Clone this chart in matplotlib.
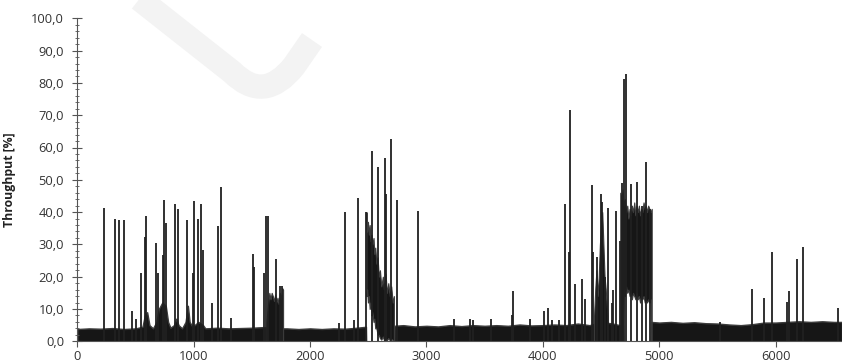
import matplotlib
matplotlib.use("Agg")
import matplotlib.pyplot as plt
from matplotlib.ticker import MultipleLocator, FuncFormatter
from matplotlib.path import Path
from matplotlib.patches import PathPatch

# ---------------- data ----------------
spike_x = [229, 323, 358, 401, 472, 507, 550, 579, 593, 677, 695, 733, 745, 765,
           837, 862, 942, 994, 1006, 1037, 1067, 1077, 1154, 1205, 1234, 1320,
           1509, 1520, 1604, 1618, 1641, 1706, 1743, 1757, 2245, 2300, 2374, 2409,
           2484, 2533, 2581, 2641, 2653, 2696, 2748, 2925, 3233, 3370, 3396, 3557,
           3735, 3742, 3891, 4006, 4043, 4078, 4141, 4190, 4222, 4233, 4278, 4336,
           4362, 4423, 4434, 4468, 4496, 4510, 4533, 4556, 4590, 4602, 4630, 4659,
           4680, 4693, 4716, 4757, 4806, 4850, 4886, 4920, 5525, 5793, 5900, 5966,
           6095, 6117, 6180, 6238, 6533]
spike_y = [41.2, 37.9, 37.5, 37.5, 9.4, 6.8, 21.2, 32.2, 38.8, 30.3, 21.0, 26.7, 43.7, 36.7,
           42.4, 41.0, 37.5, 21.0, 43.4, 38.0, 42.4, 28.3, 11.8, 35.7, 47.9, 7.3,
           27.0, 23.0, 21.2, 38.9, 38.9, 25.5, 17.1, 17.1, 5.7, 40.0, 6.6, 44.3,
           39.9, 58.9, 54.1, 56.9, 45.6, 62.5, 43.7, 40.3, 6.8, 6.8, 6.5, 6.8,
           8.0, 15.7, 6.8, 9.4, 10.2, 6.5, 6.5, 42.6, 27.7, 71.6, 17.8, 19.2,
           13.0, 48.4, 27.7, 26.0, 45.6, 43.2, 20.0, 41.2, 12.0, 15.9, 40.3, 31.0,
           49.0, 81.1, 82.8, 48.7, 49.4, 42.0, 55.5, 41.0, 6.0, 16.1, 13.5, 27.7,
           12.3, 15.6, 25.4, 29.3, 10.2]

base_x = [0, 100, 200, 300, 400, 500, 560, 580, 600, 620, 650, 680, 700, 730, 760, 780,
          800, 830, 850, 870, 900, 930, 950, 965, 990, 1040, 1080, 1100, 1200, 1300,
          1400, 1500, 1600, 1700, 1800, 1900, 2000, 2100, 2200, 2300, 2400, 2480,
          2482, 2722, 2724, 2800, 2900, 3000, 3100, 3200, 3300, 3400, 3500, 3600,
          3700, 3800, 3900, 4000, 4100, 4200, 4300, 4400, 4500, 4600, 4660, 4688,
          4690, 4928, 4930, 5000, 5100, 5200, 5300, 5400, 5500, 5600, 5700, 5800,
          5900, 6000, 6100, 6200, 6300, 6400, 6500, 6570]
base_top = [3.8, 4.0, 3.9, 4.1, 3.8, 4.0, 4.5, 8.0, 9.0, 5.0, 4.0, 6.0, 10.0, 12.0, 11.0, 6.0,
            4.2, 5.0, 7.0, 5.0, 4.0, 6.0, 11.0, 6.0, 4.5, 6.0, 5.0, 4.0, 4.2, 4.0,
            4.1, 4.2, 4.4, 4.0, 4.0, 3.8, 4.0, 3.8, 4.0, 3.9, 4.2, 4.5,
            0.0, 0.0, 4.8, 5.0, 4.6, 4.8, 4.6, 5.0, 4.7, 5.0, 4.8, 5.0,
            4.8, 5.2, 4.9, 5.0, 5.2, 5.0, 5.5, 5.0, 6.0, 5.5, 5.0, 5.0,
            0.0, 0.0, 6.0, 5.8, 6.0, 5.7, 5.9, 5.6, 5.5, 5.2, 5.0, 5.3,
            5.8, 5.8, 6.0, 6.2, 6.0, 6.2, 6.0, 6.0]

block1_x = [1625, 1640, 1650, 1660, 1670, 1680, 1690, 1700, 1710, 1720, 1730, 1740, 1750, 1760, 1768]
block1_top = [6, 12, 15, 13, 15, 14, 12.5, 14.5, 12, 13.5, 11.5, 15, 13, 16.5, 16]

block2_x = [2484, 2490, 2497, 2505, 2512, 2520, 2528, 2535, 2545, 2552, 2560, 2570, 2580,
            2590, 2600, 2612, 2625, 2635, 2648, 2660, 2672, 2685, 2697, 2710, 2720]
block2_top = [40, 34, 37, 33, 36, 31, 33, 30, 32, 27, 29, 24, 26,
              20, 22, 17, 20, 16, 21, 15, 18, 14, 17, 12, 14]
block2_bot = [14, 16, 12, 14, 10, 12, 8, 9, 6, 7, 4, 4, 2,
              2, 1, 0.5, 1.5, 0.3, 1, 0.3, 1.0, 0.3, 0.8, 0.3, 0]

block3_x = [4665, 4675, 4685, 4695, 4705, 4715, 4725, 4735, 4745, 4755, 4765, 4775, 4785, 4795,
            4805, 4815, 4825, 4835, 4845, 4855, 4865, 4875, 4885, 4895, 4905, 4915, 4925, 4935]
block3_top = [46, 44, 47, 42, 44, 40, 42, 38, 41, 39, 42, 40, 43, 39,
              42, 40, 42, 39, 41, 40, 43, 41, 42, 40, 42, 41, 40, 41]
block3_bot = [0, 0, 0, 16, 14, 17, 15, 16, 14, 15, 13, 15, 14, 13,
              15, 13, 14, 12, 14, 13, 14, 12, 13, 12, 13, 12, 13, 0]

block4_x = [4440, 4450, 4460, 4470, 4480, 4490, 4500, 4510, 4520, 4530, 4540, 4555]
block4_top = [8, 16, 22, 14, 20, 30, 36, 40, 30, 20, 16, 8]

y_ticks = [0, 10, 20, 30, 40, 50, 60, 70, 80, 90, 100]
x_ticks = [0, 1000, 2000, 3000, 4000, 5000, 6000]
y_label = "Throughput [%]"

# ---------------- figure ----------------
W, H = 842, 364
fig = plt.figure(figsize=(W / 100, H / 100), dpi=100)
fig.patch.set_facecolor("white")

# faint watermark arc (figure pixel coords -> fraction)
def fp(x, y):
    return (x / W, 1 - y / H)

verts = [fp(128, -10), fp(232, 72), fp(264, 104), fp(294, 66), fp(312, 40)]
codes = [Path.MOVETO, Path.LINETO, Path.CURVE3, Path.CURVE3, Path.LINETO]
wm = PathPatch(Path(verts, codes), facecolor="none", edgecolor="#f3f3f3",
               lw=17.5, capstyle="butt", joinstyle="round",
               transform=fig.transFigure, zorder=0)
fig.patches.append(wm)

ax = fig.add_axes([77.3 / W, (H - 341.3) / H, 1 - 77.3 / W, 323 / H])
ax.patch.set_alpha(0)

ink = "#161616"
edge = "#3c3c3c"
ax.fill_between(base_x, 0, base_top, facecolor=ink, lw=1.0, edgecolor=edge)
ax.fill_between(block1_x, 0, block1_top, facecolor=ink, lw=0.8, edgecolor=edge)
ax.fill_between(block2_x, block2_bot, block2_top, facecolor=ink, lw=0.8, edgecolor=edge)
ax.fill_between(block3_x, block3_bot, block3_top, facecolor=ink, lw=0.8, edgecolor=edge)
ax.fill_between(block4_x, 0, block4_top, facecolor=ink, lw=0.8, edgecolor=edge)
ax.vlines(spike_x, 0, spike_y, color="#202020", lw=1.3)

ax.set_xlim(0, 6570)
ax.set_ylim(0, 100)

for s in ["top", "right"]:
    ax.spines[s].set_visible(False)
for s in ["left", "bottom"]:
    ax.spines[s].set_color("#555555")
    ax.spines[s].set_linewidth(0.8)

font = "Open Sans"
ax.set_yticks(y_ticks)
ax.set_xticks(x_ticks)
ax.yaxis.set_major_formatter(FuncFormatter(lambda v, p: f"{v:.1f}".replace(".", ",")))
ax.yaxis.set_minor_locator(MultipleLocator(2))
ax.tick_params(axis="y", which="major", direction="inout", length=7, width=0.8,
               color="#555555", labelsize=9.3, labelcolor="#333333", pad=6)
ax.tick_params(axis="y", which="minor", direction="inout", length=3, width=0.6,
               color="#555555")
ax.tick_params(axis="x", which="major", direction="out", length=4, width=0.8,
               color="#555555", labelsize=9.3, labelcolor="#333333", pad=2.5)
for lab in ax.get_xticklabels() + ax.get_yticklabels():
    lab.set_fontfamily(font)

ax.set_ylabel(y_label, fontfamily=font, fontweight="bold", fontsize=8.8, color="#222222")
ax.yaxis.set_label_coords(-61 / 765, 0.5)

fig.savefig("out.png", dpi=100)
